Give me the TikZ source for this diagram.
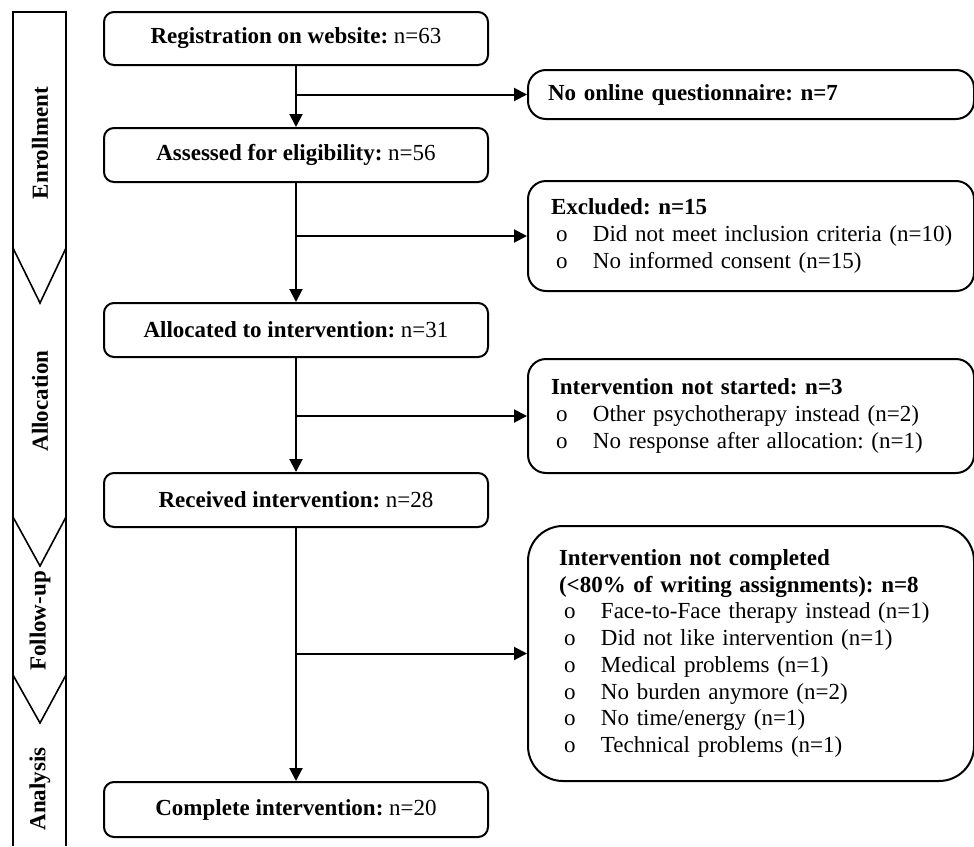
\documentclass[tikz,border=0pt]{standalone}
\usepackage{fontspec}
\setmainfont{Liberation Serif}
\usetikzlibrary{arrows.meta,positioning,calc}
\newcommand{\bul}[1]{\hspace*{5pt}\makebox[37pt][l]{o}\mbox{#1}}

\begin{document}
\frenchspacing
\begin{tikzpicture}[x=1pt,y=-1pt,
  font=\fontsize{23}{26.7}\selectfont,
  stage/.style={draw,line width=2pt,rounded corners=10pt,minimum width=384pt,
                minimum height=54pt,inner sep=0pt,align=center},
  side/.style={draw,line width=2pt,rounded corners=18pt,text width=400pt,
               inner xsep=23pt,inner ysep=0pt,minimum height=#1,anchor=north west,align=left},
  phase/.style={rotate=90,font=\fontsize{23}{26.7}\selectfont\bfseries},
  flow/.style={-{Triangle[length=13pt,width=13pt]},line width=2pt}]
  \useasboundingbox (0,0) rectangle (974,846);
  \draw[line width=1.6pt] (13,846) -- (13,12) -- (66,12) -- (66,846);
  \draw[line width=1.6pt] (13,248) -- (40,303) -- (66,248);
  \draw[line width=1.6pt] (13,517) -- (40,566) -- (66,517);
  \draw[line width=1.6pt] (13,675) -- (40,723) -- (66,675);
  \node[phase] (enr) at (40,143) {Enrollment};
  \node[phase] (all) at (40,401) {Allocation};
  \node[phase] (fol) at (40,621) {Follow-up};
  \node[phase] (ana) at (40,789) {Analysis};

  \node[stage,minimum height=53pt] (reg) at (296,38.5) {\textbf{Registration on website:} n=63};
  \node[stage] (elig)  at (296,155) {\textbf{Assessed for eligibility:} n=56};
  \node[stage] (alloc) at (296,330) {\textbf{Allocated to intervention:} n=31};
  \node[stage] (recv)  at (296,500) {\textbf{Received intervention:} n=28};
  \node[stage,minimum height=55pt] (done) at (296,809.5) {\textbf{Complete intervention:} n=20};

  \node[side=49pt,inner xsep=20pt,text width=406pt] (nq) at (527,69) {\textbf{No online questionnaire: n=7}};
  \node[side=110pt] (exc) at (527,180) {\textbf{Excluded: n=15}\\
    \bul{Did not meet inclusion criteria (n=10)}\\
    \bul{No informed consent (n=15)}};
  \node[side=114pt] (ns) at (527,358) {\textbf{Intervention not started: n=3}\\
    \bul{Other psychotherapy instead (n=2)}\\
    \bul{No response after allocation: (n=1)}};
  \node[side=255pt,rounded corners=35pt,inner xsep=31pt,text width=384pt] (nc) at (527,525)
    {\textbf{Intervention not completed}\\
    \textbf{(<80\% of writing assignments): n=8}\\
    \bul{Face-to-Face therapy instead (n=1)}\\
    \bul{Did not like intervention (n=1)}\\
    \bul{Medical problems (n=1)}\\
    \bul{No burden anymore (n=2)}\\
    \bul{No time/energy (n=1)}\\
    \bul{Technical problems (n=1)}};

  \draw[flow] (reg) -- (elig);
  \draw[flow] (elig) -- (alloc);
  \draw[flow] (alloc) -- (recv);
  \draw[flow] (recv) -- (done);
  \draw[flow] (reg.south |- nq.west) -- (nq.west);
  \draw[flow] (elig.south |- exc.west) -- (exc.west);
  \draw[flow] (alloc.south |- ns.west) -- (ns.west);
  \draw[flow] (recv.south |- nc.west) -- (nc.west);
\end{tikzpicture}
\end{document}
